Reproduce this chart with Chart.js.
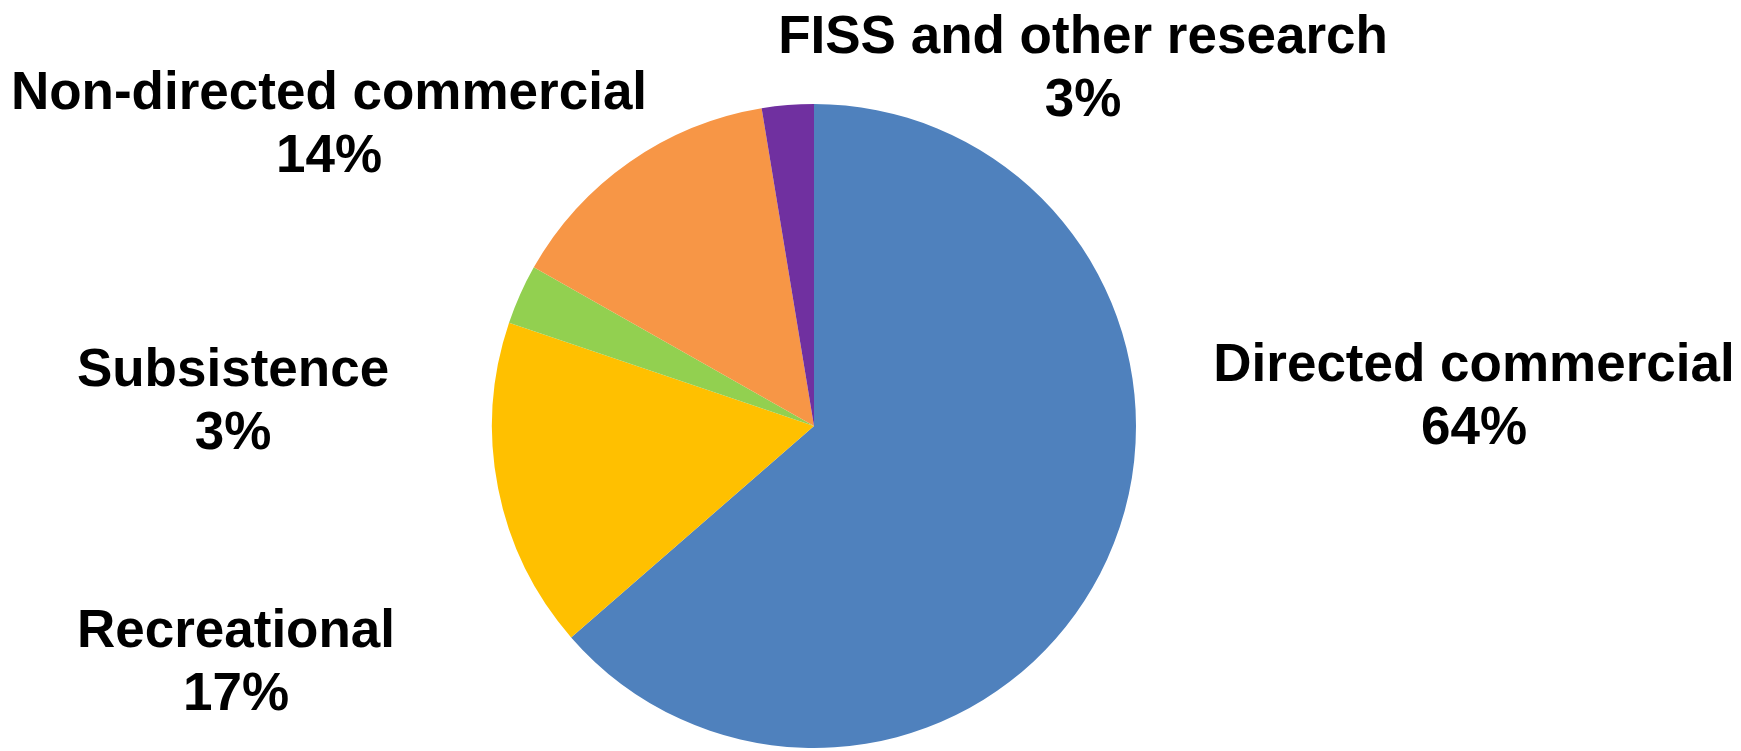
<!DOCTYPE html>
<html>
<head>
<meta charset="utf-8">
<style>
  html, body { margin: 0; padding: 0; background: #fff; }
  #wrap { width: 1741px; height: 751px; }
</style>
<script src="https://cdn.jsdelivr.net/npm/chart.js@4/dist/chart.umd.min.js"></script>
</head>
<body>
<div id="wrap"><canvas id="chartPie" width="1741" height="751"></canvas></div>
<script>
// categories and shares (percent of total)
const categories = ['Directed commercial', 'Recreational', 'Subsistence', 'Non-directed commercial', 'FISS and other research']
const shares = [63.6, 16.6, 3.0, 14.2, 2.6]
const sliceColors = ['#4F81BD', '#FFC000', '#92D050', '#F79646', '#7030A0']

// where each label's first baseline sits, relative to the pie centre
const labelOffsets = [
    [660, -45],
    [-578, 221],
    [-581, -40],
    [-485, -317],
    [269, -373],
]

const outsideLabels = {
    id: 'outsideLabels',
    afterDatasetsDraw(chart) {
        const ctx = chart.ctx
        const meta = chart.getDatasetMeta(0)
        const data = chart.data.datasets[0].data
        const total = data.reduce((a, b) => a + b, 0)
        ctx.save()
        ctx.fillStyle = '#000'
        ctx.font = 'bold 53px "Liberation Sans", Arial, sans-serif'
        ctx.textAlign = 'center'
        ctx.textBaseline = 'alphabetic'
        meta.data.forEach((arc, i) => {
            const x = arc.x + labelOffsets[i][0]
            const y = arc.y + labelOffsets[i][1]
            const pct = Math.round(data[i] / total * 100) + '%'
            ctx.fillText(chart.data.labels[i], x, y)
            ctx.fillText(pct, x, y + 63)
        })
        ctx.restore()
    },
}

new Chart(document.getElementById('chartPie'), {
    type: 'pie',
    data: {
        labels: categories,
        datasets: [
            {
                data: shares,
                backgroundColor: sliceColors,
                borderWidth: 0,
            },
        ],
    },
    options: {
        responsive: false,
        animation: false,
        layout: { padding: { left: 492, right: 605, top: 104, bottom: 3 } },
        plugins: {
            legend: { display: false },
            tooltip: { enabled: false },
        },
    },
    plugins: [outsideLabels],
})
</script>
</body>
</html>
